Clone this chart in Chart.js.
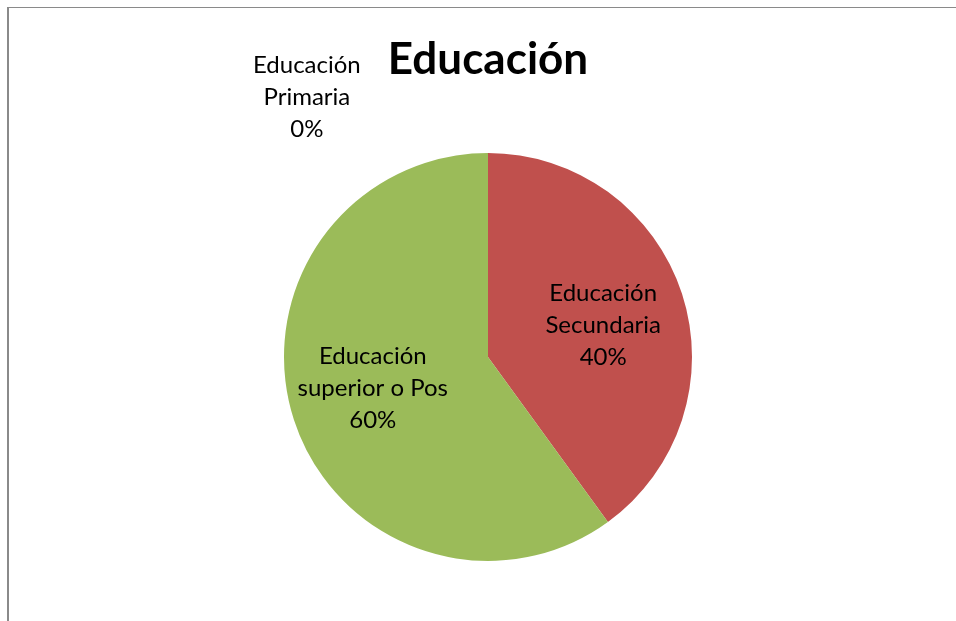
<!DOCTYPE html>
<html>
<head>
<meta charset="utf-8">
<script src="https://cdn.jsdelivr.net/npm/chart.js@4/dist/chart.umd.min.js"></script>
<style>
  html, body { margin: 0; padding: 0; background: #fff; }
  #wrap { width: 956px; height: 621px; }
</style>
</head>
<body>
<div id="wrap"><canvas id="chart" width="956" height="621"></canvas></div>
<script>
  var categories = ["Educación Primaria", "Educación Secundaria", "Educación superior o Pos"];
  var labelLines = [["Educación", "Primaria"], ["Educación", "Secundaria"], ["Educación", "superior o Pos"]];
  var shares = [0, 40, 60];
  var sliceColors = ["#4F81BD", "#C0504D", "#9BBB59"];

  var FONT = "Lato, 'Open Sans', sans-serif";

  // frame edge left over from the surrounding sheet
  var framePlugin = {
    id: "frame",
    beforeDraw: function (chart) {
      var ctx = chart.ctx;
      ctx.save();
      ctx.fillStyle = "#8a8a8a";
      ctx.fillRect(7, 7, 949, 1);
      ctx.fillRect(7, 7, 2, 614);
      ctx.restore();
    }
  };

  // category name + percentage written inside each slice;
  // empty slices get their label pushed outward
  var sliceLabels = {
    id: "sliceLabels",
    afterDatasetsDraw: function (chart) {
      var ctx = chart.ctx;
      var meta = chart.getDatasetMeta(0);
      ctx.save();
      ctx.font = "24px " + FONT;
      ctx.fillStyle = "#000";
      ctx.textAlign = "center";
      ctx.textBaseline = "middle";
      meta.data.forEach(function (arc, i) {
        var p = arc.getProps(["x", "y", "startAngle", "endAngle", "outerRadius"], true);
        var mid = (p.startAngle + p.endAngle) / 2 + 0.05;
        var dist = p.outerRadius * 0.585;
        if (shares[i] === 0) {
          mid = -Math.PI / 2 - 0.61;
          dist = p.outerRadius * 1.55;
        }
        var cx = p.x + Math.cos(mid) * dist;
        var cy = p.y + Math.sin(mid) * dist;
        var lines = labelLines[i].concat([shares[i] + "%"]);
        var lh = 32;
        lines.forEach(function (t, k) {
          ctx.fillText(t, cx, cy + (k - (lines.length - 1) / 2) * lh);
        });
      });
      ctx.restore();
    }
  };

  new Chart(document.getElementById("chart"), {
    type: "pie",
    data: {
      labels: categories,
      datasets: [{
        data: shares,
        backgroundColor: sliceColors,
        borderWidth: 0
      }]
    },
    options: {
      responsive: false,
      animation: false,
      layout: { padding: { left: 284, right: 264, top: 0, bottom: 60 } },
      plugins: {
        legend: { display: false },
        tooltip: { enabled: false },
        title: {
          display: true,
          text: "Educación",
          color: "#000",
          font: { family: FONT, size: 44, weight: "bold", lineHeight: 1.2 },
          padding: { top: 33, bottom: 67 }
        }
      }
    },
    plugins: [framePlugin, sliceLabels]
  });
</script>
</body>
</html>
